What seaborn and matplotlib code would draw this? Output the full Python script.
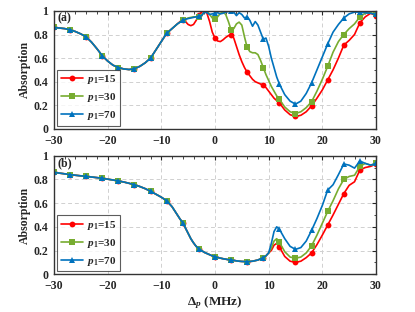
import numpy as np
import pandas as pd
import matplotlib
matplotlib.use('Agg')
import matplotlib.pyplot as plt
import seaborn as sns
from matplotlib.ticker import MultipleLocator, FuncFormatter

# detuning grid (MHz): coarse on the wings, finer in the middle
delta = np.concatenate([np.arange(-30, -7.9, 1.0),
                        np.arange(-7.5, 12.01, 0.5),
                        np.arange(13, 30.01, 1.0)])

# panel (a) ---------------------------------------------------------------
a_common = [0.86, 0.855, 0.85, 0.84, 0.825, 0.805, 0.78, 0.735, 0.68, 0.62,
            0.575, 0.54, 0.52, 0.508, 0.503, 0.51, 0.53, 0.56, 0.60, 0.67,
            0.74, 0.81, 0.85]
a_p15 = [0.87, 0.89, 0.91, 0.925, 0.91, 0.885, 0.875, 0.885, 0.92, 0.965,
         0.99, 1.0, 0.98, 0.91, 0.82, 0.77, 0.745, 0.74, 0.755, 0.775,
         0.79, 0.80, 0.77, 0.70, 0.63, 0.57, 0.52, 0.48, 0.45, 0.42,
         0.40, 0.39, 0.38, 0.37, 0.35, 0.32, 0.29, 0.26, 0.24, 0.22,
         0.16, 0.12, 0.105, 0.115, 0.145, 0.195, 0.26, 0.33, 0.415, 0.50,
         0.60, 0.71, 0.75, 0.80, 0.90, 0.95, 0.98, 0.96]
a_p30 = [0.87, 0.89, 0.905, 0.92, 0.93, 0.94, 0.945, 0.95, 0.95, 0.945,
         0.96, 0.99, 1.0, 0.97, 0.94, 0.93, 0.95, 0.98, 0.99, 0.97,
         0.91, 0.84, 0.85, 0.89, 0.905, 0.88, 0.78, 0.69, 0.655, 0.645,
         0.645, 0.63, 0.58, 0.52, 0.46, 0.41, 0.36, 0.32, 0.28, 0.25,
         0.185, 0.145, 0.13, 0.145, 0.18, 0.23, 0.32, 0.42, 0.53, 0.65,
         0.74, 0.80, 0.85, 0.89, 0.95, 0.98, 0.985, 0.97]
a_p70 = [0.87, 0.89, 0.905, 0.92, 0.93, 0.935, 0.94, 0.945, 0.95, 0.955,
         0.96, 0.99, 0.985, 0.97, 0.975, 0.98, 0.985, 0.975, 0.98, 0.99,
         0.995, 1.0, 0.99, 0.96, 0.985, 0.97, 0.94, 0.95, 0.92, 0.87,
         0.91, 0.88, 0.82, 0.76, 0.77, 0.70, 0.60, 0.52, 0.44, 0.38,
         0.29, 0.235, 0.21, 0.235, 0.30, 0.39, 0.50, 0.61, 0.72, 0.82,
         0.885, 0.94, 0.975, 0.99, 0.99, 0.985, 0.98, 0.97]

# panel (b) ---------------------------------------------------------------
b_common = [0.86, 0.853, 0.847, 0.84, 0.835, 0.83, 0.826, 0.82, 0.815, 0.81,
            0.802, 0.795, 0.787, 0.778, 0.767, 0.755, 0.74, 0.722, 0.70, 0.675,
            0.65, 0.62, 0.57,
            0.535, 0.50, 0.465, 0.435, 0.39, 0.345, 0.30, 0.265, 0.235, 0.216,
            0.20, 0.185, 0.175, 0.165, 0.155, 0.148, 0.142, 0.136, 0.131, 0.127,
            0.123, 0.12, 0.117, 0.113, 0.11, 0.108, 0.107, 0.106, 0.108, 0.11,
            0.115, 0.12, 0.13, 0.14, 0.155, 0.18]
b_p15 = [0.20, 0.245, 0.26, 0.23,
         0.15, 0.11, 0.10, 0.11, 0.14, 0.18, 0.25, 0.33, 0.415, 0.50,
         0.59, 0.68, 0.75, 0.78, 0.88, 0.90, 0.91, 0.93]
b_p30 = [0.22, 0.28, 0.30, 0.27,
         0.19, 0.145, 0.135, 0.145, 0.18, 0.24, 0.33, 0.43, 0.53, 0.62,
         0.72, 0.80, 0.825, 0.835, 0.91, 0.935, 0.92, 0.935]
b_p70 = [0.26, 0.36, 0.40, 0.38,
         0.30, 0.235, 0.21, 0.225, 0.28, 0.37, 0.47, 0.58, 0.71, 0.755,
         0.84, 0.93, 0.92, 0.895, 0.955, 0.935, 0.92, 0.935]

labels = ['$p_1$=15', '$p_1$=30', '$p_1$=70']
colors = ['#FF0000', '#77AC30', '#0072BD']
markers = ['o', 's', '^']

panels = {
    '(a)': [a_common + a_p15, a_common + a_p30, a_common + a_p70],
    '(b)': [b_common + b_p15, b_common + b_p30, b_common + b_p70],
}

sns.set_theme(style='white')
plt.rcParams['font.family'] = ['Liberation Serif', 'DejaVu Serif']
plt.rcParams['font.weight'] = 'bold'
plt.rcParams['axes.labelweight'] = 'bold'
plt.rcParams['mathtext.fontset'] = 'custom'
plt.rcParams['mathtext.rm'] = 'Liberation Serif:bold'
plt.rcParams['mathtext.it'] = 'Liberation Serif:italic:bold'
plt.rcParams['mathtext.bf'] = 'Liberation Serif:bold'

fig = plt.figure(figsize=(4.15, 3.12), dpi=100)
ax_a = fig.add_axes([0.130, 0.587, 0.776, 0.378])
ax_b = fig.add_axes([0.130, 0.121, 0.776, 0.380])

mark_idx = list(np.where(np.isclose(delta % 3, 0))[0])

for ax, (tag, series) in zip([ax_a, ax_b], panels.items()):
    df = pd.DataFrame({'delta': delta})
    for i, vals in enumerate(series):
        df['y'] = vals
        sns.lineplot(data=df, x='delta', y='y', ax=ax, color=colors[i],
                     marker=markers[i], markevery=mark_idx, markersize=4.2,
                     markeredgewidth=0, lw=1.2, label=labels[i])
    ax.set_xlim(-30, 30)
    ax.set_ylim(0, 1)
    ax.xaxis.set_major_locator(MultipleLocator(10))
    ax.xaxis.set_minor_locator(MultipleLocator(2))
    ax.yaxis.set_major_locator(MultipleLocator(0.2))
    ax.yaxis.set_minor_locator(MultipleLocator(0.1))
    ax.yaxis.set_major_formatter(FuncFormatter(lambda v, p: '{:g}'.format(round(v, 1))))
    ax.tick_params(which='both', direction='in', top=True, right=True,
                   labelsize=8.5)
    ax.tick_params(axis='x', pad=4.5)
    ax.tick_params(axis='y', pad=4)
    ax.tick_params(which='major', length=3, width=0.8)
    ax.tick_params(which='minor', length=1.8, width=0.6)
    ax.grid(True, which='major', ls=(0, (4, 3)), color='#d0d0d0', lw=0.7)
    for s in ax.spines.values():
        s.set_color('#333333')
        s.set_linewidth(1.0)
    ax.set_ylabel('Absorption', fontsize=8.5, labelpad=2)
    ax.set_xlabel('')
    ax.text(0.01, 0.985, tag, transform=ax.transAxes, fontsize=8.5,
            fontweight='bold', va='top', ha='left')
    leg = ax.legend(loc='lower left', fontsize=8, frameon=True, fancybox=False,
                    edgecolor='#333333', handlelength=2.0, borderpad=0.3,
                    labelspacing=0.45, handletextpad=0.4, borderaxespad=0.3)
    leg.get_frame().set_linewidth(0.8)

ax_b.set_xlabel(r'$\Delta_p$ (MHz)', fontsize=9.5, labelpad=1)

fig.savefig('out.png', dpi=100)
